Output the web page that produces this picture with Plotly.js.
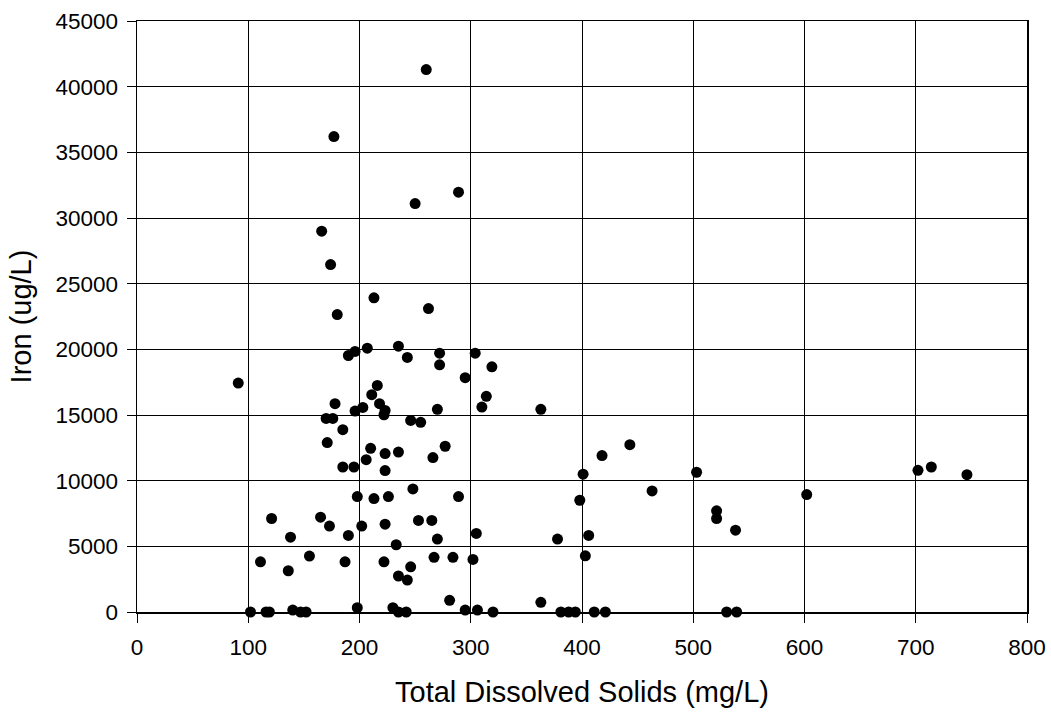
<!DOCTYPE html>
<html>
<head>
<meta charset="utf-8">
<script src="https://cdn.plot.ly/plotly-3.0.1.min.js"></script>
<style>html,body{margin:0;padding:0;background:#fff;}#chart{width:1051px;height:713px;}</style>
</head>
<body>
<div id="chart"></div>
<script>
// Total Dissolved Solids (mg/L)
const tds = [
  260, 177, 289, 250, 166, 174, 213, 262, 180, 207,
  190, 196, 235, 243, 272, 272, 295, 304, 91, 216,
  211, 218, 223, 222, 178, 196, 203, 270, 310, 170,
  176, 246, 255, 185, 171, 277, 210, 235, 223, 266,
  206, 185, 195, 223, 248, 198, 213, 226, 289, 121,
  165, 173, 190, 202, 223, 253, 265, 270, 305, 138,
  233, 111, 136, 155, 187, 222, 246, 235, 243, 267,
  284, 302, 281, 102, 116, 119, 140, 147, 152, 198,
  230, 235, 242, 295, 306, 320, 319, 314, 363, 443,
  418, 401, 463, 398, 378, 406, 403, 363, 381, 388,
  394, 411, 421, 503, 521, 521, 538, 602, 702, 714,
  746, 530, 539
];
// Iron (ug/L)
const iron = [
  41300, 36200, 31970, 31100, 29000, 26450, 23920, 23100, 22650, 20090,
  19530, 19840, 20240, 19380, 19710, 18820, 17840, 19710, 17430, 17250,
  16550, 15860, 15350, 15020, 15860, 15300, 15580, 15430, 15600, 14740,
  14740, 14590, 14440, 13880, 12900, 12620, 12460, 12180, 12060, 11760,
  11600, 11040, 11040, 10770, 9370, 8790, 8640, 8790, 8790, 7120,
  7220, 6540, 5830, 6540, 6690, 6970, 6970, 5550, 5980, 5700,
  5120, 3820, 3140, 4260, 3820, 3820, 3440, 2740, 2430, 4160,
  4160, 4000, 890, 0, 0, 0, 150, 0, 0, 330,
  330, 0, 0, 150, 150, 0, 18670, 16420, 15430, 12740,
  11910, 10490, 9220, 8510, 5550, 5830, 4280, 740, 0, 0,
  0, 0, 0, 10640, 7700, 7120, 6230, 8940, 10790, 11040,
  10460, 0, 0
];
const xTitle = "Total Dissolved Solids (mg/L)";
const yTitle = "Iron (ug/L)";

const fontFam = '"Liberation Sans", Arial, sans-serif';
const trace = {
  x: tds, y: iron, type: 'scatter', mode: 'markers',
  marker: {color: '#000000', size: 11, line: {width: 0}},
  cliponaxis: false, hoverinfo: 'x+y'
};
const axisCommon = {
  showline: true, mirror: true, linecolor: '#000000', linewidth: 1.5,
  showgrid: true, gridcolor: '#000000', gridwidth: 1,
  zeroline: false, ticks: 'outside', ticklen: 9, tickwidth: 1, tickcolor: '#000000',
  tickformat: 'd',
  tickfont: {family: fontFam, size: 22.5, color: '#000000'}
};
const layout = {
  width: 1051, height: 713,
  margin: {l: 137, r: 24, t: 21, b: 101},
  paper_bgcolor: '#ffffff', plot_bgcolor: '#ffffff',
  showlegend: false,
  font: {family: fontFam, color: '#000000'},
  xaxis: Object.assign({}, axisCommon, {
    range: [0, 800], dtick: 100, tick0: 0, autorange: false,
    ticklabelstandoff: 5,
    title: {text: xTitle, font: {family: fontFam, size: 29, color: '#000000'}, standoff: 23}
  }),
  yaxis: Object.assign({}, axisCommon, {
    range: [0, 45000], dtick: 5000, tick0: 0, autorange: false,
    ticklabelstandoff: 4,
    title: {text: yTitle, font: {family: fontFam, size: 29, color: '#000000'}, standoff: 15}
  })
};
Plotly.newPlot('chart', [trace], layout, {displayModeBar: false, staticPlot: true});
</script>
</body>
</html>
